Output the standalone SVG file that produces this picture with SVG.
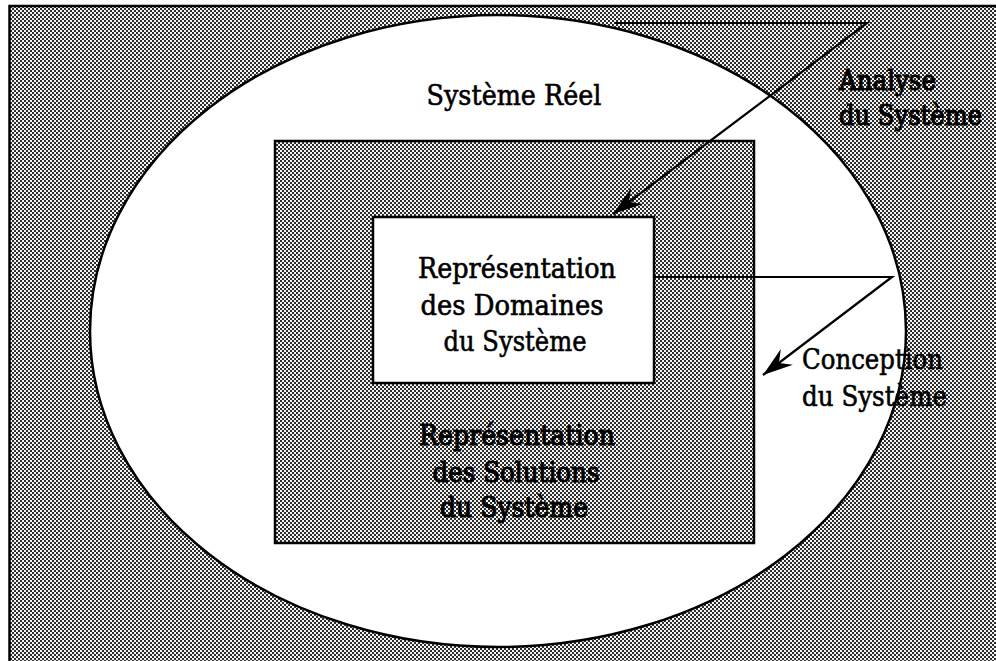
<svg xmlns="http://www.w3.org/2000/svg" width="996" height="661" viewBox="0 0 996 661">
<defs>
<pattern id="dots" x="0" y="0" width="4" height="4" patternUnits="userSpaceOnUse">
<rect width="4" height="4" fill="#f4f4f4"/>
<rect x="0" y="0" width="2" height="2" fill="#2e2e2e"/>
<rect x="2" y="2" width="2" height="2" fill="#2e2e2e"/>
</pattern>
<marker id="barb" markerUnits="userSpaceOnUse" viewBox="-32 -12 34 24" refX="0" refY="0" markerWidth="34" markerHeight="24" orient="auto">
<path d="M0,0 L-30,-10 L-20,0 L-30,10 Z" fill="#000"/>
</marker>
<style>
.lbl{font-family:"DejaVu Serif","Liberation Serif",serif;font-size:27px;fill:#000;stroke:#000;stroke-width:0.6;}
.dark{stroke-width:1.1;}
.edge{fill:none;stroke:#000;stroke-width:2.2;}
</style>
</defs>
<rect x="0" y="0" width="996" height="661" fill="#ffffff"/>
<g id="frame">
<rect x="9.5" y="6" width="1000" height="670" fill="url(#dots)" stroke="#000" stroke-width="2.5"/>
</g>
<g id="systeme-reel">
<ellipse cx="498" cy="331" rx="408" ry="316" fill="#ffffff" stroke="#000" stroke-width="2.5"/>
<text class="lbl" x="514" y="105" text-anchor="middle" font-size="29" textLength="175" lengthAdjust="spacingAndGlyphs">Système Réel</text>
</g>
<g id="solutions">
<rect x="275" y="141" width="479" height="402" fill="url(#dots)" stroke="#000" stroke-width="2.5"/>
<text class="lbl dark" x="517" y="445" text-anchor="middle" textLength="196" lengthAdjust="spacingAndGlyphs">Représentation</text>
<text class="lbl dark" x="516" y="482" text-anchor="middle" textLength="167" lengthAdjust="spacingAndGlyphs">des Solutions</text>
<text class="lbl dark" x="514" y="517" text-anchor="middle" textLength="148" lengthAdjust="spacingAndGlyphs">du Système</text>
</g>
<g id="domaines">
<rect x="373" y="217" width="281" height="166" fill="#ffffff" stroke="#000" stroke-width="2.5"/>
<text class="lbl" x="517" y="278" text-anchor="middle" textLength="198" lengthAdjust="spacingAndGlyphs">Représentation</text>
<text class="lbl" x="512" y="315" text-anchor="middle" textLength="183" lengthAdjust="spacingAndGlyphs">des Domaines</text>
<text class="lbl" x="515" y="351" text-anchor="middle" textLength="143" lengthAdjust="spacingAndGlyphs">du Système</text>
</g>
<g id="connectors">
<polyline class="edge" points="615,23 867,23 613,214" marker-end="url(#barb)"/>
<polyline class="edge" points="654,277 892,277 763,375" marker-end="url(#barb)"/>
</g>
<g id="label-analyse">
<text class="lbl dark" x="839" y="90" textLength="97" lengthAdjust="spacingAndGlyphs">Analyse</text>
<text class="lbl dark" x="839" y="125" textLength="143" lengthAdjust="spacingAndGlyphs">du Système</text>
</g>
<g id="label-conception">
<text class="lbl" x="802" y="369" textLength="141" lengthAdjust="spacingAndGlyphs">Conception</text>
<text class="lbl" x="802" y="406" textLength="145" lengthAdjust="spacingAndGlyphs">du Système</text>
</g>
</svg>
